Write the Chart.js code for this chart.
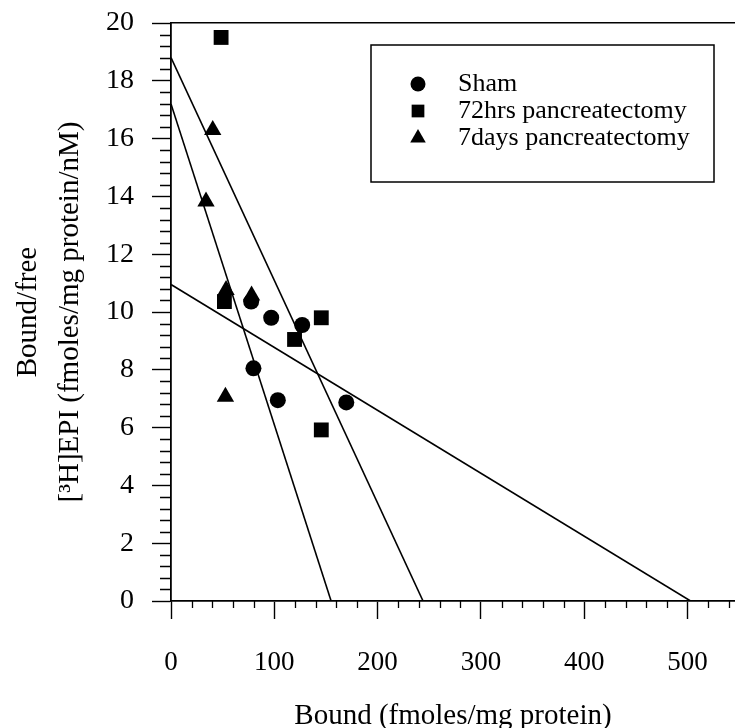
<!DOCTYPE html>
<html><head><meta charset="utf-8">
<script src="https://cdn.jsdelivr.net/npm/chart.js@4/dist/chart.umd.min.js"></script>
<style>html,body{margin:0;padding:0;background:#fff;} #wrap{width:735px;height:728px;}</style>
</head><body><div id="wrap"><canvas id="c" width="735" height="728"></canvas></div>
<script>
// ---- data ----
const seriesNames = ['Sham', '72hrs pancreatectomy', '7days pancreatectomy'];
const seriesStyles = ['circle', 'rect', 'triangle'];
const shamBound  = [77.6, 97.0, 127.0, 79.8, 103.4, 169.7];
const shamRatio  = [10.36, 9.80, 9.55, 8.05, 6.95, 6.87];
const pan72Bound = [48.5, 51.7, 145.5, 119.6, 145.5];
const pan72Ratio = [19.5, 10.36, 9.80, 9.05, 5.92];
const pan7dBound = [40.4, 33.9, 53.3, 78.0, 52.7];
const pan7dRatio = [16.3, 13.82, 10.76, 10.57, 7.07];
// Scatchard fit lines: endpoints (y-intercept, x-intercept)
const fitLineBound = [[0, 244], [0, 155], [0, 503]];
const fitLineRatio = [[18.8, 0], [17.2, 0], [10.95, 0]];
const xTickValues = [0, 100, 200, 300, 400, 500];
const yTickValues = [0, 2, 4, 6, 8, 10, 12, 14, 16, 18, 20];
const xTitle = 'Bound (fmoles/mg protein)';
const yTitle = ['Bound/free', '[\u00B3H]EPI (fmoles/mg protein/nM)'];

const FONT = "'Liberation Serif', 'Times New Roman', serif";
const pts = (xs, ys) => xs.map((x, i) => ({x: x, y: ys[i]}));

const scatterSets = [
  {label: seriesNames[0], data: pts(shamBound, shamRatio), pointStyle: seriesStyles[0], pointRadius: 8},
  {label: seriesNames[1], data: pts(pan72Bound, pan72Ratio), pointStyle: seriesStyles[1], pointRadius: 10.5},
  {label: seriesNames[2], data: pts(pan7dBound, pan7dRatio), pointStyle: seriesStyles[2], pointRadius: 10}
].map(d => Object.assign(d, {backgroundColor: '#000', borderColor: '#000', borderWidth: 0, pointHoverRadius: d.pointRadius, isSeries: true}));

const lineSets = fitLineBound.map((xs, i) => ({
  type: 'line', label: 'fit' + i, data: pts(xs, fitLineRatio[i]), showLine: true,
  borderColor: '#000', borderWidth: 1.6, pointRadius: 0, fill: false, isSeries: false
}));

const minorTicks = {
  id: 'minorTicks',
  afterDraw(chart) {
    const ctx = chart.ctx, xs = chart.scales.x, ys = chart.scales.y;
    ctx.save();
    ctx.strokeStyle = '#000'; ctx.lineWidth = 1.3;
    ctx.beginPath();
    for (let v = 20; v <= xs.max; v += 20) {
      if (v % 100 === 0) continue;
      const p = Math.round(xs.getPixelForValue(v)) + 0.5;
      ctx.moveTo(p, ys.bottom); ctx.lineTo(p, ys.bottom + 7);
    }
    for (let k = 1; k < 50; k++) {
      if (k % 5 === 0) continue;
      const v = k * 0.4;
      const p = Math.round(ys.getPixelForValue(v)) + 0.5;
      ctx.moveTo(xs.left - 11, p); ctx.lineTo(xs.left, p);
    }
    ctx.stroke();
    ctx.restore();
  }
};

const boxLegend = {
  id: 'boxLegend',
  afterDraw(chart) {
    const ctx = chart.ctx;
    const box = {l: 371, t: 45, r: 714, b: 182};
    ctx.save();
    ctx.strokeStyle = '#000'; ctx.lineWidth = 1.5;
    ctx.strokeRect(box.l, box.t, box.r - box.l, box.b - box.t);
    const rows = [84, 111, 138];
    const radii = [7.5, 9, 9];
    chart.data.datasets.filter(d => d.isSeries).forEach((d, i) => {
      const y = rows[i];
      ctx.fillStyle = '#000'; ctx.strokeStyle = '#000';
      Chart.helpers.drawPoint(ctx, {pointStyle: d.pointStyle, radius: radii[i], rotation: 0, borderWidth: 0}, 418, y);
      ctx.fillStyle = '#000';
      ctx.font = "26px " + FONT;
      ctx.textBaseline = 'middle'; ctx.textAlign = 'left';
      ctx.fillText(d.label, 458, y);
    });
    ctx.restore();
  }
};

new Chart(document.getElementById('c'), {
  type: 'scatter',
  data: {datasets: [...lineSets, ...scatterSets]},
  options: {
    responsive: false, animation: false,
    layout: {autoPadding: false, padding: {top: 23, right: 0, left: 0, bottom: 0}},
    plugins: {legend: {display: false}, tooltip: {enabled: false}},
    scales: {
      x: {
        type: 'linear', position: 'bottom', min: 0, max: 546,
        afterBuildTicks: s => { s.ticks = xTickValues.map(v => ({value: v})); },
        afterFit: s => { s.height = 127; s.paddingLeft = 0; s.paddingRight = 0; },
        grid: {drawOnChartArea: false, tickLength: 18, tickColor: '#000', tickWidth: 1.4},
        border: {color: '#000', width: 1.8},
        ticks: {color: '#000', font: {family: FONT, size: 27}, padding: 28, maxRotation: 0},
        title: {display: true, text: xTitle, color: '#000', font: {family: FONT, size: 29, lineHeight: 0.8}, padding: 0}
      },
      xTop: {
        type: 'linear', position: 'top', min: 0, max: 546,
        afterFit: s => { s.height = 0; s.paddingLeft = 0; s.paddingRight = 0; },
        grid: {drawOnChartArea: false, drawTicks: false},
        border: {color: '#000', width: 1.6},
        ticks: {display: false}
      },
      y: {
        type: 'linear', position: 'left', min: 0, max: 20,
        afterBuildTicks: s => { s.ticks = yTickValues.map(v => ({value: v})); },
        afterFit: s => { s.width = 171; s.paddingTop = 0; s.paddingBottom = 0; },
        grid: {drawOnChartArea: false, tickLength: 19, tickColor: '#000', tickWidth: 1.4},
        border: {color: '#000', width: 1.8},
        ticks: {color: '#000', font: {family: FONT, size: 28}, padding: 18},
        title: {display: true, text: yTitle, color: '#000', font: {family: FONT, size: 29, lineHeight: 1.45}, padding: {top: 7, bottom: 0}}
      }
    }
  },
  plugins: [minorTicks, boxLegend]
});
</script>
</body></html>
